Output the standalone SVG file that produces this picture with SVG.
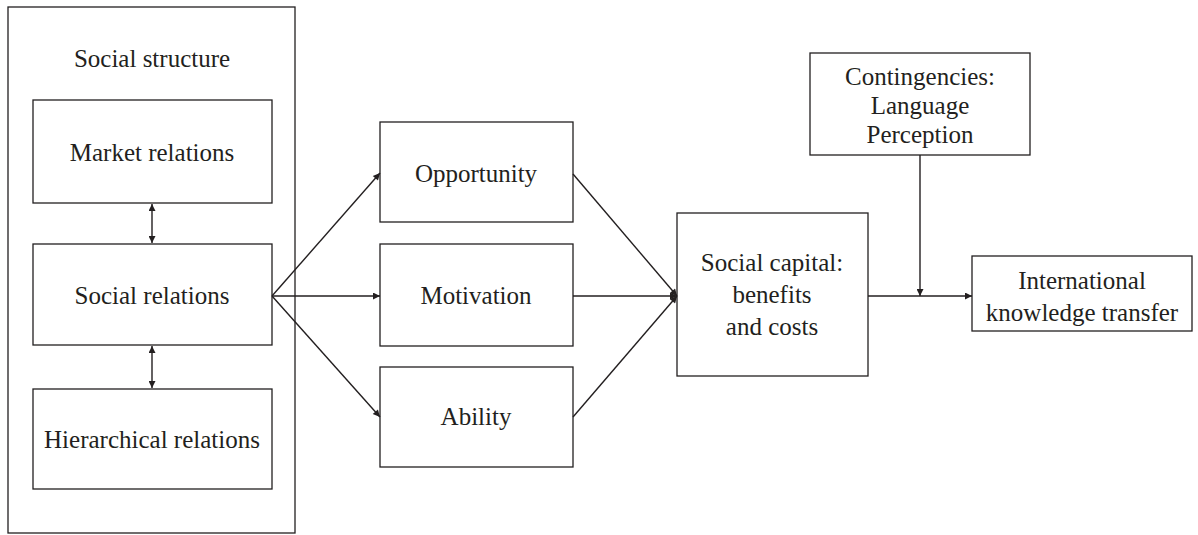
<svg xmlns="http://www.w3.org/2000/svg" width="1198" height="535" viewBox="0 0 1198 535">
<style>
rect{fill:#fff;stroke:#231f20;stroke-width:1.3}
text{font-family:"Liberation Serif","Times New Roman",serif;font-size:25px;fill:#231f20;text-anchor:middle}
.c line{stroke:#231f20;stroke-width:1.4}
</style>
<defs>
<marker id="ah" viewBox="0 0 10 10" refX="10" refY="5" markerWidth="9" markerHeight="7" markerUnits="userSpaceOnUse" orient="auto-start-reverse">
<path d="M0,0 L10,5 L0,10 z" fill="#231f20"/>
</marker>
</defs>
<rect x="0" y="0" width="1198" height="535" style="stroke:none"/>
<g id="social-structure"><rect x="8" y="7" width="287" height="526"/><text x="152" y="67">Social structure</text></g>
<g id="market"><rect x="33" y="100" width="239" height="103"/><text x="152" y="161">Market relations</text></g>
<g id="social"><rect x="33" y="244" width="239" height="101"/><text x="152" y="304">Social relations</text></g>
<g id="hier"><rect x="33" y="389" width="239" height="100"/><text x="152" y="448">Hierarchical relations</text></g>
<g id="opportunity"><rect x="380" y="122" width="193" height="100"/><text x="476" y="182">Opportunity</text></g>
<g id="motivation"><rect x="380" y="244" width="193" height="102"/><text x="476" y="304">Motivation</text></g>
<g id="ability"><rect x="380" y="367" width="193" height="100"/><text x="476" y="425">Ability</text></g>
<g id="capital"><rect x="677" y="213" width="191" height="163"/><text x="772" y="271">Social capital:</text><text x="772" y="303">benefits</text><text x="772" y="335">and costs</text></g>
<g id="contingencies"><rect x="810" y="53" width="220" height="102"/><text x="920" y="85">Contingencies:</text><text x="920" y="114">Language</text><text x="920" y="143">Perception</text></g>
<g id="transfer"><rect x="972" y="256" width="220" height="75"/><text x="1082" y="289">International</text><text x="1082" y="321">knowledge transfer</text></g>
<g class="c" id="connectors">
<line x1="152" y1="204" x2="152" y2="243" marker-start="url(#ah)" marker-end="url(#ah)"/>
<line x1="152" y1="346" x2="152" y2="388" marker-start="url(#ah)" marker-end="url(#ah)"/>
<line x1="272" y1="296" x2="380" y2="173" marker-end="url(#ah)"/>
<line x1="272" y1="296" x2="380" y2="296" marker-end="url(#ah)"/>
<line x1="272" y1="296" x2="380" y2="417" marker-end="url(#ah)"/>
<line x1="573" y1="174" x2="677" y2="296" marker-end="url(#ah)"/>
<line x1="573" y1="296" x2="677" y2="296" marker-end="url(#ah)"/>
<line x1="573" y1="417" x2="677" y2="296" marker-end="url(#ah)"/>
<line x1="868" y1="296" x2="972" y2="296" marker-end="url(#ah)"/>
<line x1="920" y1="155" x2="920" y2="296" marker-end="url(#ah)"/>
</g>
</svg>
